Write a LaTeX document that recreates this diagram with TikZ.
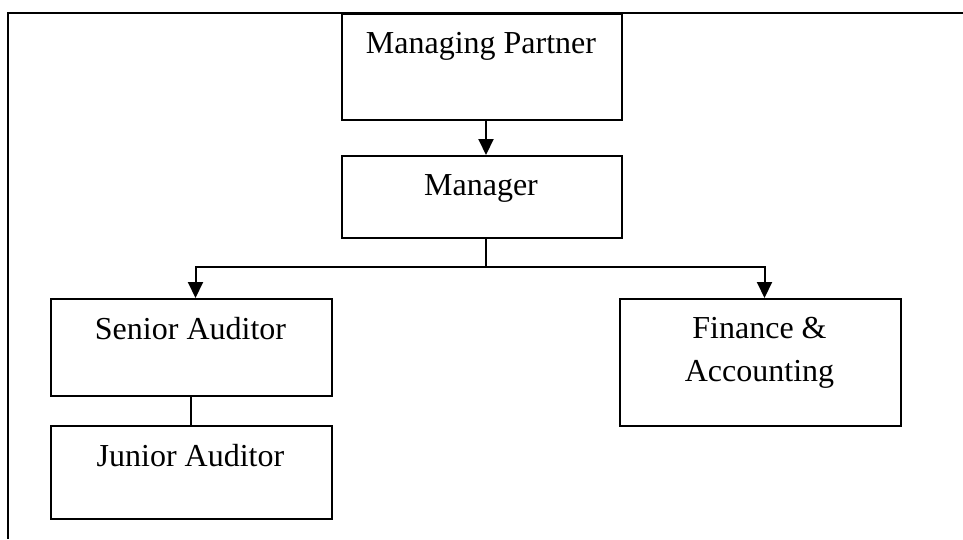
\documentclass[tikz,border=0pt]{standalone}
\usepackage{fontspec}
\setmainfont{Liberation Serif}
\usetikzlibrary{arrows.meta}
\begin{document}
\begin{tikzpicture}[x=1pt,y=-1pt,
  box/.style={draw, line width=2pt, inner sep=0pt, anchor=north west},
  txt/.style={font=\fontsize{32}{43}\selectfont, inner sep=0pt, anchor=base},
  conn/.style={line width=2pt},
  arr/.style={line width=2pt, -{Triangle[width=15pt,length=16pt]}}]
\useasboundingbox (0,0) rectangle (963,539);
% outer frame
\draw[line width=2pt] (963,13) -- (8,13) -- (8,539);
% boxes
\node[box, minimum width=280pt, minimum height=106pt] (mp) at (341,13) {};
\node[box, minimum width=280pt, minimum height=82pt] (mgr) at (341,155) {};
\node[box, minimum width=281pt, minimum height=97pt] (sa) at (50,298) {};
\node[box, minimum width=281pt, minimum height=93pt] (ja) at (50,425) {};
\node[box, minimum width=281pt, minimum height=127pt] (fa) at (619,298) {};
% texts
\node[txt] (mpt) at (481,53) {Managing Partner};
\node[txt] (mgrt) at (481,195) {Manager};
\node[txt] (sat) at (190.5,339) {Senior Auditor};
\node[txt] (jat) at (190.5,466) {Junior Auditor};
\node[txt] (fat1) at (759.5,338) {Finance \&};
\node[txt] (fat2) at (759.5,381) {Accounting};
% connectors
\draw[arr] ([xshift=4pt]mp.south) -- ([xshift=4pt]mgr.north);
\draw[conn] ([xshift=4pt]mgr.south) -- ++(0,28) coordinate (j);
\draw[arr] (j) -| ([xshift=4pt]sa.north);
\draw[arr] (j) -| ([xshift=4pt]fa.north);
\draw[conn] ([xshift=-1pt]sa.south) -- ([xshift=-1pt]ja.north);
\end{tikzpicture}
\end{document}
